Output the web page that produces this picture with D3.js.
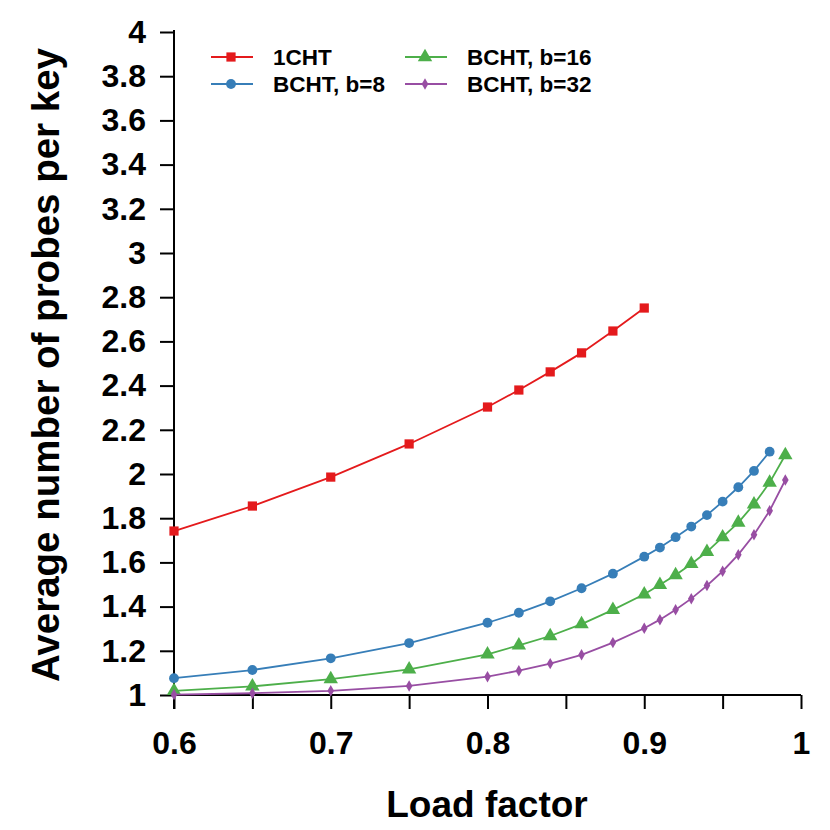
<!DOCTYPE html>
<html>
<head>
<meta charset="utf-8">
<script src="https://cdn.jsdelivr.net/npm/d3@7"></script>
<style>
  body { margin: 0; background: #fff; }
  svg { display: block; font-family: "Liberation Sans", Arial, sans-serif; font-weight: bold; }
</style>
</head>
<body>
<script>
// load factors
var xShort = [0.6, 0.65, 0.7, 0.75, 0.8, 0.82, 0.84, 0.86, 0.88, 0.9];
var xB8 = [0.6, 0.65, 0.7, 0.75, 0.8, 0.82, 0.84, 0.86, 0.88, 0.9, 0.91, 0.92, 0.93, 0.94, 0.95, 0.96, 0.97, 0.98];
var xLong = [0.6, 0.65, 0.7, 0.75, 0.8, 0.82, 0.84, 0.86, 0.88, 0.9, 0.91, 0.92, 0.93, 0.94, 0.95, 0.96, 0.97, 0.98, 0.99];

// average probes per key
var cht1 = [1.742, 1.855, 1.986, 2.136, 2.303, 2.380, 2.462, 2.548, 2.647, 2.751];
var bcht8 = [1.076, 1.113, 1.166, 1.235, 1.327, 1.372, 1.424, 1.483, 1.549, 1.626, 1.667, 1.714, 1.762, 1.814, 1.875, 1.940, 2.014, 2.101];
var bcht16 = [1.019, 1.039, 1.072, 1.116, 1.184, 1.225, 1.267, 1.321, 1.385, 1.456, 1.499, 1.543, 1.593, 1.648, 1.714, 1.780, 1.863, 1.961, 2.086];
var bcht32 = [1.002, 1.008, 1.019, 1.041, 1.083, 1.110, 1.142, 1.182, 1.237, 1.302, 1.341, 1.386, 1.436, 1.495, 1.560, 1.635, 1.725, 1.834, 1.973];

var seriesNames = ['1CHT', 'BCHT, b=8', 'BCHT, b=16', 'BCHT, b=32'];
var xTicks = [0.6, 0.65, 0.7, 0.75, 0.8, 0.85, 0.9, 0.95, 1];
var xTickLabels = ['0.6', '', '0.7', '', '0.8', '', '0.9', '', '1'];
var yTicks = [1, 1.2, 1.4, 1.6, 1.8, 2, 2.2, 2.4, 2.6, 2.8, 3, 3.2, 3.4, 3.6, 3.8, 4];
var yTickLabels = ['1', '1.2', '1.4', '1.6', '1.8', '2', '2.2', '2.4', '2.6', '2.8', '3', '3.2', '3.4', '3.6', '3.8', '4'];

var colors = ['#e41a1c', '#377eb8', '#4daf4a', '#984ea3'];
var symbols = [d3.symbolSquare, d3.symbolCircle, d3.symbolTriangle, d3.symbolDiamond];
var symSizes = [85, 76, 90, 38];

var series = [
  { name: seriesNames[0], xs: xShort, ys: cht1 },
  { name: seriesNames[1], xs: xB8, ys: bcht8 },
  { name: seriesNames[2], xs: xLong, ys: bcht16 },
  { name: seriesNames[3], xs: xLong, ys: bcht32 }
];

var width = 830, height = 830;
var svg = d3.select('body').append('svg').attr('width', width).attr('height', height);

var x = d3.scaleLinear().domain([0.6, 1]).range([174, 801]);
var y = d3.scaleLinear().domain([1, 4]).range([695, 32]);

// x axis
var xAxis = svg.append('g').attr('transform', 'translate(0,695)')
  .call(d3.axisBottom(x).tickValues(xTicks).tickSize(14).tickPadding(22)
    .tickFormat(function (d, i) { return xTickLabels[i]; }));
xAxis.select('.domain').attr('d', 'M172,0H801').attr('stroke-width', 2);
xAxis.selectAll('.tick line').attr('stroke-width', 2);
xAxis.selectAll('text').attr('font-size', 32).attr('fill', '#000');

// y axis
var yAxis = svg.append('g').attr('transform', 'translate(174,0)')
  .call(d3.axisLeft(y).tickValues(yTicks).tickSize(14).tickPadding(14)
    .tickFormat(function (d, i) { return yTickLabels[i]; }));
yAxis.select('.domain').attr('d', 'M0,30V709').attr('stroke-width', 2);
yAxis.selectAll('.tick line').attr('stroke-width', 2);
yAxis.selectAll('text').attr('font-size', 32).attr('fill', '#000');

// axis titles
svg.append('text').attr('x', 487).attr('y', 817).attr('text-anchor', 'middle')
  .attr('font-size', 37).text('Load factor');
svg.append('text').attr('transform', 'translate(59,365) rotate(-90)').attr('text-anchor', 'middle')
  .attr('font-size', 38.5).text('Average number of probes per key');

var line = d3.line().x(function (d) { return x(d[0]); }).y(function (d) { return y(d[1]); });

series.forEach(function (s, k) {
  var pts = s.xs.map(function (v, i) { return [v, s.ys[i]]; });
  svg.append('path').datum(pts).attr('d', line)
    .attr('fill', 'none').attr('stroke', colors[k]).attr('stroke-width', 1.8);
  svg.selectAll('.m' + k).data(pts).enter().append('path')
    .attr('class', 'm' + k)
    .attr('transform', function (d) { return 'translate(' + x(d[0]) + ',' + y(d[1]) + ')'; })
    .attr('d', d3.symbol().type(symbols[k]).size(symSizes[k]))
    .attr('fill', colors[k]);
});

// legend
var legPos = [[211, 57], [211, 84], [405, 57], [405, 84]];
series.forEach(function (s, k) {
  var g = svg.append('g').attr('transform', 'translate(' + legPos[k][0] + ',' + legPos[k][1] + ')');
  g.append('line').attr('x1', 0).attr('x2', 42).attr('stroke', colors[k]).attr('stroke-width', 1.8);
  g.append('path').attr('transform', 'translate(20,0)')
    .attr('d', d3.symbol().type(symbols[k]).size(symSizes[k])).attr('fill', colors[k]);
  g.append('text').attr('x', 62).attr('y', 8).attr('font-size', 22.5).text(s.name);
});
</script>
</body>
</html>
